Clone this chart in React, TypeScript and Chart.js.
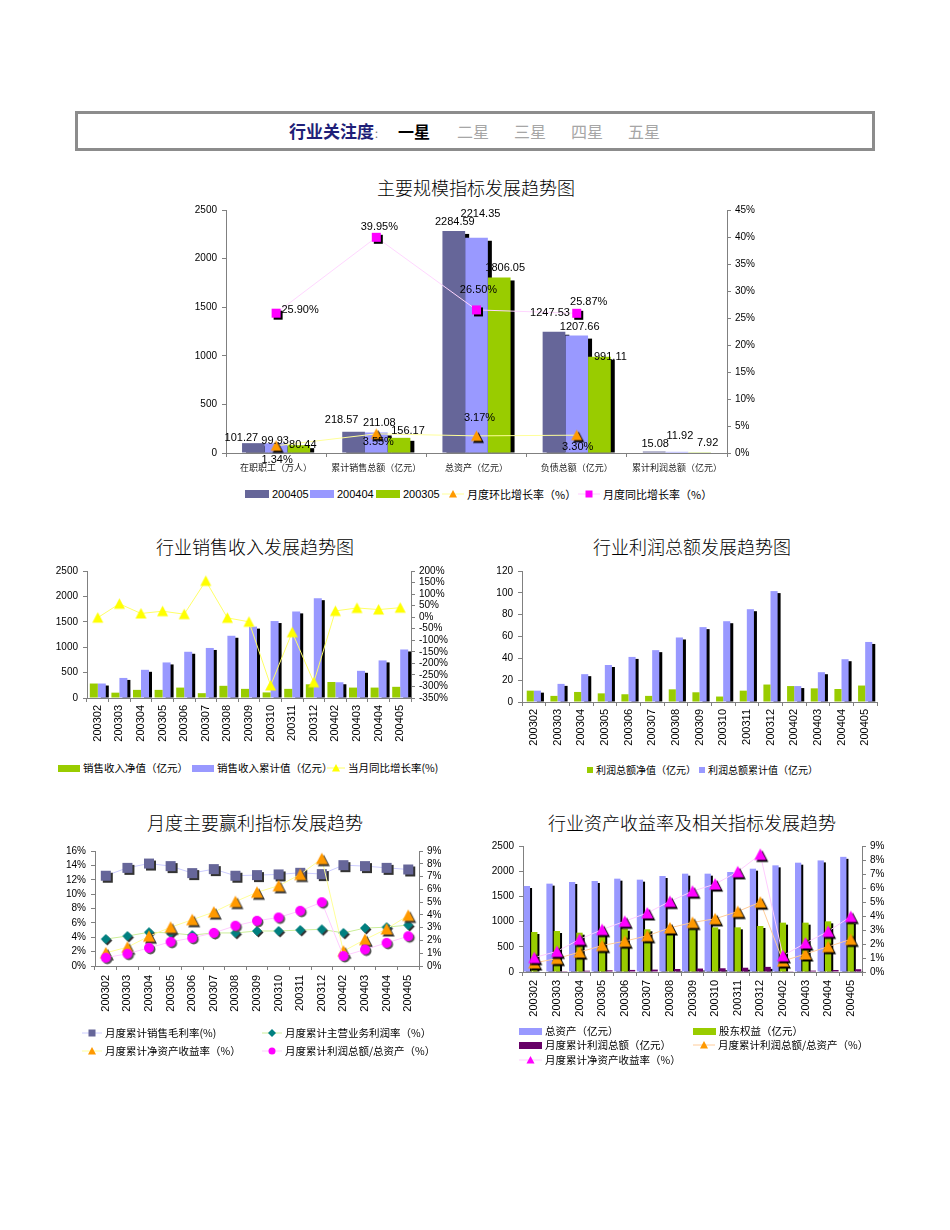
import React, { useEffect, useRef } from 'react';
import { Chart, registerables } from 'chart.js';

Chart.register(...registerables);

const ARIAL = '"Liberation Sans", Arial, sans-serif';
const CJK = '"Noto Sans CJK SC", "Noto Sans", sans-serif';

// ---------------- Data ----------------
// Chart 1: 主要规模指标发展趋势图
const scaleCategories = ['在职职工（万人）', '累计销售总额（亿元）', '总资产（亿元）', '负债总额（亿元）', '累计利润总额（亿元）'];
const scale200405 = [101.27, 218.57, 2284.59, 1247.53, 15.08];
const scale200404 = [99.93, 211.08, 2214.35, 1207.66, 11.92];
const scale200305 = [80.44, 156.17, 1806.05, 991.11, 7.92];
const monthOnMonthRate = [1.34, 3.55, 3.17, 3.3, null];
const yearOnYearRate = [25.9, 39.95, 26.5, 25.87, null];

// Shared months
const months = ['200302', '200303', '200304', '200305', '200306', '200307', '200308', '200309', '200310', '200311', '200312', '200402', '200403', '200404', '200405'];

// Chart 2: 行业销售收入发展趋势图
const salesNet = [285, 105, 160, 160, 205, 95, 240, 180, 110, 180, 270, 315, 205, 205, 220];
const salesCumulative = [285, 395, 555, 700, 910, 985, 1225, 1405, 1515, 1705, 1965, 310, 535, 740, 955];
const salesYoY = [-2, 58, 16, 26, 13, 157, -3, -20, -296, -65, -282, 27, 40, 33, 41];

// Chart 3: 行业利润总额发展趋势图
const profitNet = [10.4, 5.6, 9.2, 7.92, 7.1, 5.6, 11.6, 8.9, 5.0, 10.4, 16.0, 14.6, 12.5, 11.92, 15.08];
const profitCumulative = [10.4, 16.6, 25.5, 33.9, 41.3, 47.5, 59.1, 68.6, 74.0, 85.0, 101.6, 14.6, 27.3, 39.2, 55.0];

// Chart 4: 月度主要赢利指标发展趋势
const grossMargin = [12.56, 13.66, 14.26, 13.9, 12.93, 13.48, 12.56, 12.65, 12.74, 12.97, 12.79, 14.03, 13.9, 13.66, 13.43];
const operatingMargin = [3.75, 4.17, 4.7, 4.6, 4.3, 4.6, 4.6, 4.87, 4.87, 5.0, 5.1, 4.6, 5.28, 5.4, 5.7];
const returnOnEquity = [1.03, 1.47, 2.33, 3.03, 3.62, 4.22, 5.04, 5.77, 6.28, 7.16, 8.4, 1.16, 2.07, 2.9, 3.96];
const profitToAssets = [0.65, 0.96, 1.42, 1.89, 2.2, 2.59, 3.15, 3.54, 3.8, 4.32, 4.99, 0.78, 1.29, 1.81, 2.33];

// Chart 5: 行业资产收益率及相关指标发展趋势
const totalAssets = [1706, 1753, 1786, 1806, 1852, 1832, 1905, 1951, 1951, 1984, 2050, 2116, 2169, 2214, 2285];
const shareholderEquity = [794, 813, 780, 815, 860, 847, 873, 886, 886, 886, 913, 979, 979, 1005, 995];

// Axis ranges [min, max, step]
const amountAxis = [0, 2500, 500];
const scaleRateAxis = [0, 45, 5];
const salesRateAxis = [-350, 200, 50];
const profitAxis = [0, 120, 20];
const marginAxis = [0, 16, 2];
const returnAxis = [0, 9, 1];

// ---------------- Label placement (styling, not data) ----------------
const barLabelOffsets = {
  a: [[-12, -5], [-12, -12], [1, -9], [-4, -19], [1, -8]],
  b: [[-1, -2], [3, -10], [4, -24], [3, -9], [3, -16]],
  c: [[4, 0], [9, -7], [6, -9], [11, 0], [8, -9]],
};
const yoyLabelOffsets = [[24, -3], [3, -10], [2, -20], [12, -11], [0, 0]];
const momLabelOffsets = [[1, 14], [2, 8], [3, -18], [1, 12], [0, 0]];

// ---------------- Helpers ----------------
type Shape = 'square' | 'triangle' | 'diamond' | 'circle';

function shapePath(ctx: CanvasRenderingContext2D, shape: Shape, cx: number, cy: number, size: number) {
  const r = size / 2;
  ctx.beginPath();
  if (shape === 'square') ctx.rect(cx - r, cy - r, size, size);
  else if (shape === 'triangle') {
    ctx.moveTo(cx, cy - r);
    ctx.lineTo(cx + r, cy + r * 0.9);
    ctx.lineTo(cx - r, cy + r * 0.9);
    ctx.closePath();
  } else if (shape === 'diamond') {
    ctx.moveTo(cx, cy - r);
    ctx.lineTo(cx + r, cy);
    ctx.lineTo(cx, cy + r);
    ctx.lineTo(cx - r, cy);
    ctx.closePath();
  } else ctx.arc(cx, cy, r, 0, Math.PI * 2);
}

function makeMarker(shape: Shape, size: number, color: string, shadow = 2, shadowColor = '#000') {
  const pad = Math.ceil(shadow) + 1;
  const dim = Math.ceil(size + pad * 2);
  const c = document.createElement('canvas');
  c.width = dim;
  c.height = dim;
  const ctx = c.getContext('2d')!;
  const mid = dim / 2;
  if (shadow) {
    ctx.fillStyle = shadowColor;
    shapePath(ctx, shape, mid + shadow, mid + shadow, size);
    ctx.fill();
  }
  ctx.fillStyle = color;
  shapePath(ctx, shape, mid, mid, size);
  ctx.fill();
  return c;
}

const shadowPlugin = {
  id: 'barShadow',
  beforeDatasetsDraw(chart: any) {
    const ctx = chart.ctx;
    chart.data.datasets.forEach((ds: any, di: number) => {
      if (!ds.shadow) return;
      const meta = chart.getDatasetMeta(di);
      const [dx, dy] = ds.shadow;
      ctx.save();
      ctx.fillStyle = '#000';
      meta.data.forEach((el: any) => {
        const { x, y, base, width } = el.getProps(['x', 'y', 'base', 'width'], true);
        const top = Math.min(y, base) + dy;
        const bottom = Math.max(y, base);
        if (bottom - top <= 0) return;
        ctx.fillRect(x - width / 2 + dx, top, width, bottom - top);
      });
      ctx.restore();
    });
  },
};

const labelPlugin = {
  id: 'valueLabels',
  afterDatasetsDraw(chart: any) {
    const ctx = chart.ctx;
    chart.data.datasets.forEach((ds: any, di: number) => {
      if (!ds.labelOffsets) return;
      const meta = chart.getDatasetMeta(di);
      meta.data.forEach((el: any, i: number) => {
        const v = ds.data[i];
        if (v == null) return;
        const [dx, dy] = ds.labelOffsets[i];
        ctx.save();
        ctx.font = `11px ${ARIAL}`;
        ctx.fillStyle = '#000';
        ctx.textAlign = 'center';
        ctx.textBaseline = 'middle';
        ctx.fillText(ds.labelFormat(v), el.x + dx, el.y + dy);
        ctx.restore();
      });
    });
  },
};

function valueAxis(position: string, range: number[], width: number, suffix = '') {
  return {
    type: 'linear',
    position,
    min: range[0],
    max: range[1],
    ticks: {
      stepSize: range[2],
      autoSkip: false,
      color: '#000',
      font: { family: ARIAL, size: 10 },
      padding: position === 'left' ? 5 : 4,
      callback: (v: any) => `${v}${suffix}`,
    },
    grid: { display: true, drawOnChartArea: false, drawTicks: true, tickLength: 4, color: '#808080' },
    border: { display: true, color: '#808080' },
    afterFit: (s: any) => {
      s.width = width;
    },
  };
}

function categoryAxis(height: number, rotate: number, font: any, padding = 3, color = '#000') {
  return {
    type: 'category',
    offset: true,
    grid: { display: true, offset: true, drawOnChartArea: false, drawTicks: true, tickLength: 4, color: '#808080' },
    border: { display: true, color: '#808080' },
    ticks: { color, font, autoSkip: false, minRotation: rotate, maxRotation: rotate, padding },
    afterFit: (s: any) => {
      s.height = height;
    },
  };
}

function baseOptions(padding: any, scales: any, extra: any = {}) {
  return {
    responsive: false,
    maintainAspectRatio: false,
    animation: false,
    events: [],
    layout: { padding },
    plugins: { legend: { display: false }, tooltip: { enabled: false } },
    scales,
    ...extra,
  };
}

function lineSeries(label: string, data: any[], yAxisID: string, lineColor: string, marker: any, extra: any = {}) {
  return {
    type: 'line',
    label,
    data,
    yAxisID,
    borderColor: lineColor,
    backgroundColor: lineColor,
    borderWidth: 1,
    pointStyle: marker,
    pointRadius: 5,
    pointHoverRadius: 5,
    clip: false,
    order: 0,
    tension: 0,
    ...extra,
  };
}

function barSeries(label: string, data: number[], color: string, shadow: number[] | null, extra: any = {}) {
  return { type: 'bar', label, data, backgroundColor: color, borderWidth: 0, yAxisID: 'y', order: 1, shadow, ...extra };
}

const monthFont = { family: ARIAL, size: 11 };

// ---------------- Chart configs ----------------
function makeScaleChart() {
  const tri = makeMarker('triangle', 11, '#FF9900', 2);
  const sq = makeMarker('square', 9, '#FF00FF', 2);
  return {
    type: 'bar',
    data: {
      labels: scaleCategories,
      datasets: [
        lineSeries('月度环比增长率（%）', monthOnMonthRate, 'y1', '#FFFF99', tri, {
          labelOffsets: momLabelOffsets,
          labelFormat: (v: number) => `${v.toFixed(2)}%`,
        }),
        lineSeries('月度同比增长率（%）', yearOnYearRate, 'y1', '#FFD6FF', sq, {
          labelOffsets: yoyLabelOffsets,
          labelFormat: (v: number) => `${v.toFixed(2)}%`,
        }),
        barSeries('200405', scale200405, '#666699', [4, 3], { labelOffsets: barLabelOffsets.a, labelFormat: (v: number) => v.toFixed(2) }),
        barSeries('200404', scale200404, '#9999FF', [4, 3], { labelOffsets: barLabelOffsets.b, labelFormat: (v: number) => v.toFixed(2) }),
        barSeries('200305', scale200305, '#99CC00', [4, 3], { labelOffsets: barLabelOffsets.c, labelFormat: (v: number) => v.toFixed(2) }),
      ],
    },
    options: baseOptions(
      { top: 15, left: 0, right: 0, bottom: 0 },
      {
        x: categoryAxis(32, 0, { family: CJK, size: 9 }, 5, '#222'),
        y: valueAxis('left', amountAxis, 56),
        y1: valueAxis('right', scaleRateAxis, 63, '%'),
      },
      { datasets: { bar: { categoryPercentage: 0.68, barPercentage: 1 } } }
    ),
    plugins: [shadowPlugin, labelPlugin],
  };
}

function makeSalesChart() {
  const tri = makeMarker('triangle', 11, '#FFFF00', 0);
  return {
    type: 'bar',
    data: {
      labels: months,
      datasets: [
        lineSeries('当月同比增长率(%)', salesYoY, 'y1', '#FFFF66', tri),
        barSeries('销售收入净值（亿元）', salesNet, '#99CC00', null),
        barSeries('销售收入累计值（亿元）', salesCumulative, '#9999FF', [3, 2]),
      ],
    },
    options: baseOptions(
      { top: 8, left: 0, right: 0, bottom: 0 },
      {
        x: categoryAxis(62, 90, monthFont, 3),
        y: valueAxis('left', amountAxis, 47),
        y1: valueAxis('right', salesRateAxis, 49, '%'),
      },
      { datasets: { bar: { categoryPercentage: 0.74, barPercentage: 1 } } }
    ),
    plugins: [shadowPlugin],
  };
}

function makeProfitChart() {
  return {
    type: 'bar',
    data: {
      labels: months,
      datasets: [
        barSeries('利润总额净值（亿元）', profitNet, '#99CC00', null),
        barSeries('利润总额累计值（亿元）', profitCumulative, '#9999FF', [3, 2]),
      ],
    },
    options: baseOptions(
      { top: 8, left: 0, right: 23, bottom: 0 },
      {
        x: categoryAxis(58, 90, monthFont, 3),
        y: valueAxis('left', profitAxis, 42),
      },
      { datasets: { bar: { categoryPercentage: 0.6, barPercentage: 1 } } }
    ),
    plugins: [shadowPlugin],
  };
}

function makeMarginChart() {
  const sq = makeMarker('square', 10, '#666699', 2, '#333');
  const dia = makeMarker('diamond', 10, '#008080', 1.5, '#333');
  const tri = makeMarker('triangle', 12, '#FF9900', 2, '#333');
  const cir = makeMarker('circle', 10, '#FF00FF', 1.5, '#555');
  return {
    type: 'line',
    data: {
      labels: months,
      datasets: [
        lineSeries('月度累计利润总额/总资产（%）', profitToAssets, 'y1', '#FFCCFF', cir),
        lineSeries('月度累计净资产收益率（%）', returnOnEquity, 'y1', '#FFFF99', tri),
        lineSeries('月度累计主营业务利润率（%）', operatingMargin, 'y', '#CCEE99', dia),
        lineSeries('月度累计销售毛利率(%)', grossMargin, 'y', '#CCCCFF', sq),
      ],
    },
    options: baseOptions(
      { top: 11, left: 0, right: 0, bottom: 0 },
      {
        x: categoryAxis(64, 90, monthFont, 5),
        y: valueAxis('left', marginAxis, 55, '%'),
        y1: valueAxis('right', returnAxis, 41, '%'),
      }
    ),
    plugins: [],
  };
}

function makeReturnChart() {
  const triO = makeMarker('triangle', 12, '#FF9900', 2);
  const triM = makeMarker('triangle', 12, '#FF00FF', 2);
  return {
    type: 'bar',
    data: {
      labels: months,
      datasets: [
        lineSeries('月度累计净资产收益率（%）', returnOnEquity, 'y1', '#FFCCFF', triM),
        lineSeries('月度累计利润总额/总资产（%）', profitToAssets, 'y1', '#FFCC99', triO),
        barSeries('总资产（亿元）', totalAssets, '#9999FF', [2, 2]),
        barSeries('股东权益（亿元）', shareholderEquity, '#99CC00', [2, 2]),
        barSeries('月度累计利润总额（亿元）', profitCumulative, '#660066', [2, 2]),
      ],
    },
    options: baseOptions(
      { top: 11, left: 0, right: 0, bottom: 0 },
      {
        x: categoryAxis(53, 90, monthFont, 4),
        y: valueAxis('left', amountAxis, 43),
        y1: valueAxis('right', returnAxis, 48, '%'),
      },
      { datasets: { bar: { categoryPercentage: 0.98, barPercentage: 0.85 } } }
    ),
    plugins: [shadowPlugin],
  };
}

// ---------------- Components ----------------
function ChartCanvas({ left, top, width, height, make }: any) {
  const ref = useRef<HTMLCanvasElement>(null);
  useEffect(() => {
    const chart = new Chart(ref.current as HTMLCanvasElement, make());
    return () => chart.destroy();
  }, []);
  return (
    <div style={{ position: 'absolute', left, top, width, height }}>
      <canvas ref={ref} width={width} height={height} style={{ width, height, display: 'block' }} />
    </div>
  );
}

function Title({ cx, cy, text }: any) {
  return (
    <div
      style={{
        position: 'absolute',
        left: cx - 250,
        top: cy - 13,
        width: 500,
        height: 26,
        lineHeight: '26px',
        textAlign: 'center',
        fontFamily: CJK,
        fontSize: 18,
        fontWeight: 300,
        color: '#000',
        whiteSpace: 'nowrap',
      }}
    >
      {text}
    </div>
  );
}

function MarkerSvg({ shape, color, cx, cy, size }: any) {
  const r = size / 2;
  if (shape === 'square') return <rect x={cx - r} y={cy - r} width={size} height={size} fill={color} />;
  if (shape === 'triangle')
    return <polygon points={`${cx},${cy - r} ${cx + r},${cy + r * 0.9} ${cx - r},${cy + r * 0.9}`} fill={color} />;
  if (shape === 'diamond')
    return <polygon points={`${cx},${cy - r} ${cx + r},${cy} ${cx},${cy + r} ${cx - r},${cy}`} fill={color} />;
  return <circle cx={cx} cy={cy} r={r} fill={color} />;
}

function LineSwatch({ line, shape, color, width = 22, size = 8 }: any) {
  return (
    <svg width={width} height={12} style={{ display: 'block' }}>
      <line x1={0} y1={6} x2={width} y2={6} stroke={line} strokeWidth={1} />
      <MarkerSvg shape={shape} color={color} cx={width / 2} cy={6} size={size} />
    </svg>
  );
}

function BoxSwatch({ color, width = 24, height = 8 }: any) {
  return <span style={{ display: 'block', width, height, background: color }} />;
}

function LegendItem({ x, y, swatch, text, font = CJK, size = 10.5, gap = 3 }: any) {
  return (
    <div
      style={{
        position: 'absolute',
        left: x,
        top: y - 8,
        height: 16,
        display: 'flex',
        alignItems: 'center',
        whiteSpace: 'nowrap',
        fontSize: size,
        lineHeight: '16px',
        fontFamily: font,
        color: '#000',
      }}
    >
      {swatch}
      <span style={{ marginLeft: gap }}>{text}</span>
    </div>
  );
}

function Header() {
  const star = (text: string, left: number, strong: boolean) => (
    <span
      style={{
        position: 'absolute',
        left,
        top: 121,
        lineHeight: '20px',
        fontSize: 16,
        fontWeight: strong ? 700 : 400,
        color: strong ? '#000' : '#A6A6A6',
        fontFamily: CJK,
        whiteSpace: 'nowrap',
      }}
    >
      {text}
    </span>
  );
  return (
    <>
      <div
        style={{
          position: 'absolute',
          left: 75,
          top: 111,
          width: 800,
          height: 40,
          boxSizing: 'border-box',
          border: '3px solid #8C8C8C',
        }}
      />
      <span
        style={{
          position: 'absolute',
          left: 289,
          top: 120,
          lineHeight: '22px',
          fontSize: 17,
          fontWeight: 700,
          color: '#1F1F78',
          fontFamily: CJK,
          whiteSpace: 'nowrap',
        }}
      >
        行业关注度<span style={{ fontSize: 10, fontWeight: 400, color: '#777' }}>：</span>
      </span>
      {star('一星', 398, true)}
      {star('二星', 457, false)}
      {star('三星', 514, false)}
      {star('四星', 571, false)}
      {star('五星', 628, false)}
    </>
  );
}

export default function App() {
  return (
    <div style={{ position: 'absolute', left: 0, top: 0, width: 950, height: 1230, background: '#fff', fontFamily: CJK }}>
      <Header />

      {/* Chart 1 */}
      <Title cx={476} cy={187} text="主要规模指标发展趋势图" />
      <ChartCanvas left={170} top={195} width={620} height={290} make={makeScaleChart} />
      <LegendItem x={245} y={494} swatch={<BoxSwatch color="#666699" />} text="200405" font={ARIAL} size={11} />
      <LegendItem x={310} y={494} swatch={<BoxSwatch color="#9999FF" />} text="200404" font={ARIAL} size={11} />
      <LegendItem x={376} y={494} swatch={<BoxSwatch color="#99CC00" />} text="200305" font={ARIAL} size={11} />
      <LegendItem x={442} y={494} swatch={<LineSwatch line="#FFFF99" shape="triangle" color="#FF9900" />} text="月度环比增长率（%）" size={11} />
      <LegendItem x={578} y={494} swatch={<LineSwatch line="#FFCCFF" shape="square" color="#FF00FF" size={7} />} text="月度同比增长率（%）" size={11} />

      {/* Chart 2 */}
      <Title cx={255} cy={546} text="行业销售收入发展趋势图" />
      <ChartCanvas left={40} top={560} width={420} height={200} make={makeSalesChart} />
      <LegendItem x={58} y={768} swatch={<BoxSwatch color="#99CC00" width={22} height={7} />} text="销售收入净值（亿元）" />
      <LegendItem x={192} y={768} swatch={<BoxSwatch color="#9999FF" width={22} height={7} />} text="销售收入累计值（亿元）" />
      <LegendItem x={327} y={768} swatch={<LineSwatch line="#FFFF66" shape="triangle" color="#FFFF00" width={18} />} text="当月同比增长率(%)" />

      {/* Chart 3 */}
      <Title cx={692} cy={546} text="行业利润总额发展趋势图" />
      <ChartCanvas left={480} top={560} width={420} height={200} make={makeProfitChart} />
      <LegendItem x={587} y={770} swatch={<BoxSwatch color="#99CC00" width={6} height={6} />} text="利润总额净值（亿元）" size={10} />
      <LegendItem x={699} y={770} swatch={<BoxSwatch color="#9999FF" width={6} height={6} />} text="利润总额累计值（亿元）" size={10} />

      {/* Chart 4 */}
      <Title cx={255} cy={822} text="月度主要赢利指标发展趋势" />
      <ChartCanvas left={40} top={840} width={420} height={190} make={makeMarginChart} />
      <LegendItem x={82} y={1033} swatch={<LineSwatch line="#CCCCFF" shape="square" color="#666699" width={20} size={7} />} text="月度累计销售毛利率(%)" />
      <LegendItem x={262} y={1033} swatch={<LineSwatch line="#CCEE99" shape="diamond" color="#008080" width={20} size={8} />} text="月度累计主营业务利润率（%）" />
      <LegendItem x={82} y={1051} swatch={<LineSwatch line="#FFFF99" shape="triangle" color="#FF9900" width={20} size={8} />} text="月度累计净资产收益率（%）" />
      <LegendItem x={262} y={1051} swatch={<LineSwatch line="#FFCCFF" shape="circle" color="#FF00FF" width={20} size={7} />} text="月度累计利润总额/总资产（%）" />

      {/* Chart 5 */}
      <Title cx={692} cy={822} text="行业资产收益率及相关指标发展趋势" />
      <ChartCanvas left={480} top={835} width={430} height={190} make={makeReturnChart} />
      <LegendItem x={519} y={1031} swatch={<BoxSwatch color="#9999FF" width={23} height={7} />} text="总资产（亿元）" />
      <LegendItem x={693} y={1031} swatch={<BoxSwatch color="#99CC00" width={23} height={7} />} text="股东权益（亿元）" />
      <LegendItem x={519} y={1045} swatch={<BoxSwatch color="#660066" width={23} height={7} />} text="月度累计利润总额（亿元）" />
      <LegendItem x={693} y={1045} swatch={<LineSwatch line="#FFCC99" shape="triangle" color="#FF9900" width={22} />} text="月度累计利润总额/总资产（%）" />
      <LegendItem x={519} y={1060} swatch={<LineSwatch line="#FFCCFF" shape="triangle" color="#FF00FF" width={23} />} text="月度累计净资产收益率（%）" />
    </div>
  );
}
